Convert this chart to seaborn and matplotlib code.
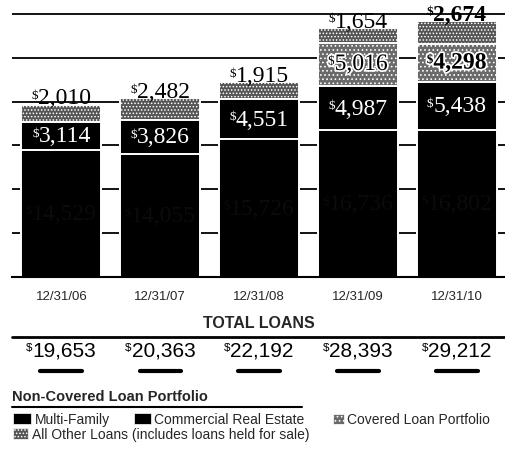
import matplotlib

matplotlib.use("Agg")

import numpy as np
import pandas as pd
import matplotlib.pyplot as plt
import matplotlib.patheffects as pe
import matplotlib.transforms as mtransforms
from matplotlib.patches import Rectangle
from matplotlib.lines import Line2D
import seaborn as sns

# data (millions of dollars)
dates = ["12/31/06", "12/31/07", "12/31/08", "12/31/09", "12/31/10"]
multi_family = [14529, 14055, 15726, 16736, 16802]
commercial_re = [3114, 3826, 4551, 4987, 5438]
covered = [0, 0, 0, 5016, 4298]
all_other = [2010, 2482, 1915, 1654, 2674]
total_loans = [19653, 20363, 22192, 28393, 29212]

W, H = 506, 456
SERIF = ["Liberation Serif", "DejaVu Serif"]
NARROW = ["Liberation Sans Narrow", "Liberation Sans", "DejaVu Sans"]


def fx(px):
    return px / W


def fy(py):
    return 1 - py / H


sns.set_theme(style="white")
plt.rcParams["hatch.linewidth"] = 0.7

fig = plt.figure(figsize=(W / 100, H / 100), dpi=100)
ax = fig.add_axes([fx(12), fy(278), 494 / W, 278 / H])

# stacked bars drawn as cumulative layers, tallest first
mf = np.array(multi_family)
cre = mf + np.array(commercial_re)
cov = cre + np.array(covered)
oth = cov + np.array(all_other)

OTHER_C = "#555555"
COVER_C = "#6a6a6a"
layers = [
    (oth, OTHER_C, "....."),
    (cov, COVER_C, "...."),
    (cre, "black", None),
    (mf, "black", None),
]
for heights, color, hatch in layers:
    n0 = len(ax.patches)
    sns.barplot(x=dates, y=heights, color=color, saturation=1, width=0.81,
                edgecolor="white", linewidth=1.4, ax=ax)
    if hatch:
        for p in ax.patches[n0:]:
            p.set_hatch(hatch)

ax.set_ylim(0, 31700)
ax.set_xlim(-0.5, 4.5)
ax.set_yticks(range(0, 30001, 5000))
ax.set_yticklabels([])
ax.grid(axis="y", color="black", linewidth=1.3)
ax.set_axisbelow(True)
for s in ["left", "right", "top"]:
    ax.spines[s].set_visible(False)
ax.spines["bottom"].set_color("black")
ax.spines["bottom"].set_linewidth(1.5)
ax.set_xlabel("")
ax.set_ylabel("")
ax.tick_params(axis="x", length=0, pad=9)
ax.set_xticks(range(5))
ax.set_xticklabels(dates, fontsize=9.5, family=NARROW)
ax.tick_params(axis="y", length=0)


def money(x, y, val, size, trans, color="black", weight="normal",
          family=SERIF, va="center", stroke=None):
    shift = mtransforms.offset_copy(trans, fig=fig, x=size * 0.14, y=0, units="points")
    t = fig.text(x, y, f"{val:,}", transform=shift, ha="center", va=va,
                 fontsize=size, color=color, fontweight=weight, family=family)
    d = ax.annotate("$", xy=(0, 0.93), xycoords=t, ha="right", va="top",
                    fontsize=size * 0.55, color=color, fontweight=weight,
                    family=family, annotation_clip=False)
    if stroke:
        eff = [pe.withStroke(linewidth=2.5, foreground=stroke)]
        t.set_path_effects(eff)
        d.set_path_effects(eff)
    return t


for i in range(5):
    # multi-family labels are printed dark on black, nearly invisible
    money(i, mf[i] / 2, multi_family[i], 17, ax.transData, color="#0b0b0b")
    money(i, (mf[i] + cre[i]) / 2, commercial_re[i], 17, ax.transData, color="white")
    if covered[i]:
        money(i, (cre[i] + cov[i]) / 2, covered[i], 17, ax.transData,
              stroke="white", weight="bold" if i == 4 else "normal")
    money(i, oth[i] + 150, all_other[i], 17, ax.transData, va="baseline",
          weight="bold" if i == 4 else "normal")

# total loans section
fig.text(fx(259), fy(323), "TOTAL LOANS", ha="center", va="center",
         fontsize=11.5, fontweight="bold", family=NARROW)
fig.add_artist(Line2D([fx(12), fx(506)], [fy(338), fy(338)], color="black", lw=2))
centers = [61.5, 160.5, 259, 358, 457]
for cx, val in zip(centers, total_loans):
    money(fx(cx), fy(351), val, 15, fig.transFigure, family=NARROW)
    fig.add_artist(Line2D([fx(cx - 21), fx(cx + 21)], [fy(372), fy(372)],
                          color="black", lw=3, solid_capstyle="round"))

# legend
fig.text(fx(12), fy(397), "Non-Covered Loan Portfolio", ha="left", va="center",
         fontsize=10.5, fontweight="bold", family=NARROW)
fig.add_artist(Line2D([fx(12), fx(302)], [fy(408), fy(408)], color="black", lw=1.5))

legend_items = [
    (13, 414, 18, 11, "black", None, 35, 420, "Multi-Family"),
    (134, 414, 17, 11, "black", None, 154, 420, "Commercial Real Estate"),
    (333, 415, 11, 10, COVER_C, "....", 347, 420, "Covered Loan Portfolio"),
    (13, 429, 15, 11, OTHER_C, ".....", 32, 435,
     "All Other Loans (includes loans held for sale)"),
]
for x0, y0, w, h, color, hatch, tx, ty, label in legend_items:
    fig.add_artist(Rectangle((fx(x0), fy(y0 + h)), w / W, h / H,
                             transform=fig.transFigure, facecolor=color,
                             edgecolor="white", lw=0.5, hatch=hatch))
    fig.text(fx(tx), fy(ty), label, ha="left", va="center", fontsize=10,
             family=NARROW)

plt.savefig("out.png", dpi=100)
